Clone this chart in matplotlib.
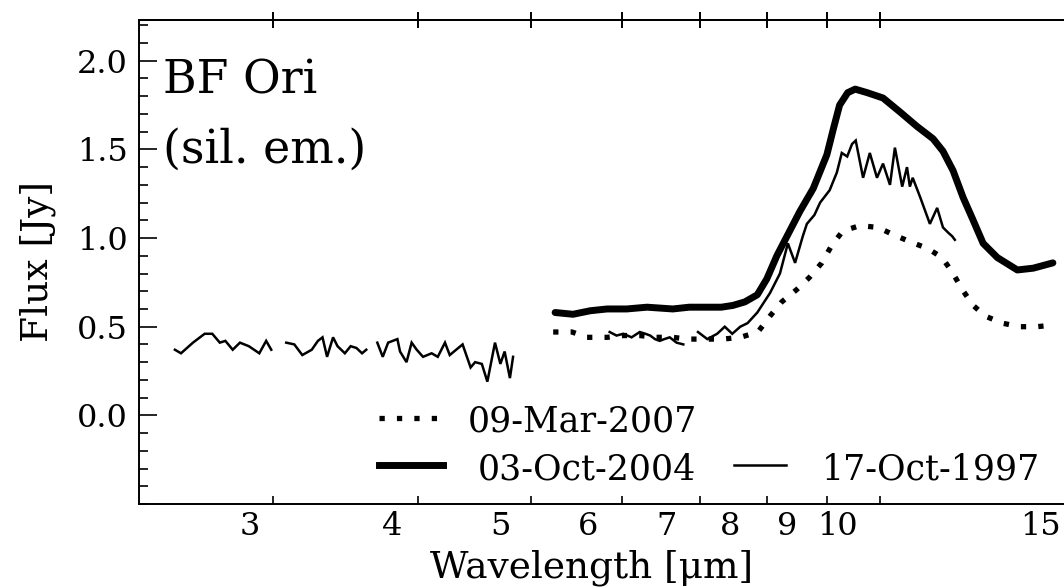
import numpy as np
import matplotlib
matplotlib.use("Agg")
import matplotlib.pyplot as plt
from matplotlib.ticker import FixedLocator, NullLocator, MultipleLocator, FormatStrFormatter
from matplotlib.transforms import ScaledTranslation
from matplotlib.lines import Line2D

plt.rcParams['font.family'] = ['DejaVu Serif']

nan = np.nan

# 17-Oct-1997 spectrum (NaN separates the separate wavelength windows)
wl_1997 = [2.47, 2.50, 2.56, 2.62, 2.66, 2.70, 2.73, 2.77, 2.81, 2.86, 2.92, 2.96, 2.99, nan,
           3.08, 3.13, 3.18, 3.24, 3.28, 3.31, 3.34, 3.38, 3.41, 3.46, 3.50, 3.54, 3.58, 3.61, nan,
           3.69, 3.73, 3.77, 3.84, 3.86, 3.91, 3.95, 3.99, 4.04, 4.11, 4.16, 4.22, 4.26, 4.37,
           4.44, 4.48, 4.54, 4.59, 4.66, 4.71, 4.75, 4.80, 4.83, nan,
           5.85, 5.93, 6.01, 6.11, 6.21, 6.28, 6.34, 6.40, 6.46, 6.52, 6.59, 6.68, 6.77, nan,
           6.97, 7.10, 7.24, 7.35, 7.46, 7.58, 7.69, 7.84, 8.04, 8.20, 8.33, 8.45, 8.58, 8.65,
           8.78, 8.88, 9.05, 9.18, 9.27, 9.37, 9.46, 9.53, 9.67, 9.80, 9.94, 10.06, 10.20, 10.30,
           10.45, 10.55, 10.61, 10.67, 10.83, 11.04, 11.20, 11.33, 11.45, 11.54, 11.60]
flux_1997 = [0.37, 0.35, 0.41, 0.46, 0.46, 0.41, 0.42, 0.37, 0.41, 0.39, 0.35, 0.42, 0.37, nan,
             0.41, 0.40, 0.34, 0.37, 0.42, 0.44, 0.33, 0.44, 0.39, 0.35, 0.39, 0.38, 0.35, 0.37, nan,
             0.41, 0.33, 0.41, 0.43, 0.36, 0.30, 0.41, 0.37, 0.33, 0.35, 0.33, 0.41, 0.34, 0.40,
             0.27, 0.30, 0.29, 0.19, 0.41, 0.29, 0.36, 0.21, 0.33, nan,
             0.47, 0.45, 0.46, 0.44, 0.47, 0.46, 0.45, 0.43, 0.42, 0.43, 0.44, 0.41, 0.40, nan,
             0.47, 0.43, 0.46, 0.50, 0.46, 0.50, 0.52, 0.58, 0.69, 0.80, 0.97, 0.86, 1.01, 1.08,
             1.13, 1.20, 1.27, 1.37, 1.48, 1.46, 1.53, 1.55, 1.34, 1.48, 1.34, 1.42, 1.30, 1.51,
             1.29, 1.40, 1.29, 1.34, 1.23, 1.08, 1.17, 1.06, 1.03, 1.01, 0.99]

# 03-Oct-2004 spectrum
wl_2004 = [5.25, 5.44, 5.63, 5.82, 6.05, 6.30, 6.63, 6.85, 7.10, 7.30, 7.47, 7.65, 7.84, 7.99,
           8.15, 8.30, 8.53, 8.76, 9.00, 9.12, 9.23, 9.38, 9.52, 9.75, 10.06, 10.41, 10.76,
           11.11, 11.33, 11.56, 11.79, 12.03, 12.27, 12.62, 13.13, 13.55, 14.09]
flux_2004 = [0.58, 0.57, 0.59, 0.60, 0.60, 0.61, 0.60, 0.61, 0.61, 0.61, 0.62, 0.64, 0.68, 0.77,
             0.90, 1.00, 1.15, 1.28, 1.47, 1.62, 1.75, 1.82, 1.84, 1.82, 1.79, 1.71, 1.63,
             1.56, 1.49, 1.38, 1.23, 1.10, 0.97, 0.89, 0.82, 0.83, 0.86]

# 09-Mar-2007 spectrum
wl_2007 = [5.23, 5.43, 5.59, 5.82, 6.01, 6.21, 6.42, 6.63, 6.83, 7.07, 7.32, 7.58, 7.85, 8.04,
           8.23, 8.48, 8.70, 8.91, 9.09, 9.29, 9.61, 9.96, 10.26, 10.61, 11.00, 11.31, 11.56,
           11.77, 12.03, 12.32, 12.74, 13.20, 13.65, 14.15]
flux_2007 = [0.47, 0.47, 0.44, 0.44, 0.45, 0.45, 0.44, 0.44, 0.43, 0.43, 0.43, 0.44, 0.47, 0.56,
             0.64, 0.71, 0.78, 0.86, 0.96, 1.04, 1.07, 1.06, 1.02, 0.98, 0.94, 0.89, 0.80,
             0.71, 0.62, 0.56, 0.52, 0.50, 0.50, 0.51]

series_dates = ['09-Mar-2007', '03-Oct-2004', '17-Oct-1997']

x_ticks = [3, 4, 5, 6, 7, 8, 9, 10, 15]
x_tick_labels = ['3', '4', '5', '6', '7', '8', '9', '10', '15']
y_ticks = [0.0, 0.5, 1.0, 1.5, 2.0]

# horizontal shift (pixels) applied to each x tick label
x_label_shift_px = [-23, -26, -30, -34, -34, -37, -40, -43, -44]

DPI = 100
fig = plt.figure(figsize=(10.64, 5.88), dpi=DPI)
ax = fig.add_axes([0.1306, 0.1429, 0.9192, 0.8231])
ax.set_xscale('log')
ax.set_xlim(2.3, 16)
ax.set_ylim(-0.5, 2.23)

dotted = (0, (1, 2.3))
ax.plot(wl_2007, flux_2007, color='black', lw=3.8, linestyle=dotted, dash_capstyle='butt')
ax.plot(wl_2004, flux_2004, color='black', lw=5.0, solid_capstyle='round', solid_joinstyle='round')
ax.plot(wl_1997, flux_1997, color='black', lw=1.8, solid_joinstyle='miter')

for s in ('left', 'bottom', 'top', 'right'):
    ax.spines[s].set_linewidth(1.4)

# x axis
ax.xaxis.set_major_locator(FixedLocator(x_ticks))
ax.xaxis.set_minor_locator(NullLocator())
ax.set_xticklabels(x_tick_labels)
ax.tick_params(axis='x', which='major', direction='in', length=6, width=1.2,
               labelsize=23, pad=5, top=False)
for lab, dx in zip(ax.get_xticklabels(), x_label_shift_px):
    lab.set_transform(lab.get_transform() + ScaledTranslation(dx / DPI, 0, fig.dpi_scale_trans))

top = ax.secondary_xaxis('top')
top.xaxis.set_major_locator(FixedLocator(x_ticks))
top.xaxis.set_minor_locator(NullLocator())
top.tick_params(axis='x', which='major', direction='inout', length=11, width=1.4, labeltop=False)
top.spines['top'].set_linewidth(1.4)

# y axis
ax.yaxis.set_major_locator(FixedLocator(y_ticks))
ax.yaxis.set_minor_locator(MultipleLocator(0.1))
ax.yaxis.set_major_formatter(FormatStrFormatter('%.1f'))
ax.tick_params(axis='y', which='major', direction='in', length=13, width=1.2,
               labelsize=23, pad=8, right=False)
ax.tick_params(axis='y', which='minor', direction='in', length=6.5, width=1.2, right=False)

ax.set_xlabel('Wavelength [μm]', fontsize=27)
ax.xaxis.set_label_coords(0.463, -0.095)
ax.set_ylabel('Flux [Jy]', fontsize=27)
ax.yaxis.set_label_coords(-0.085, 0.5)

ax.text(0.0245, 0.849, 'BF Ori', transform=ax.transAxes, fontsize=33, va='baseline')
ax.text(0.0245, 0.7045, '(sil. em.)', transform=ax.transAxes, fontsize=33, va='baseline')

# key
def key_entry(x0, x1, y_line, x_text, y_text, label, **style):
    ax.add_line(Line2D([x0, x1], [y_line, y_line], transform=ax.transAxes,
                       color='black', **style))
    ax.text(x_text, y_text, label, transform=ax.transAxes, fontsize=25,
            ha='right', va='baseline')

key_entry(0.2454, 0.3078, 0.1777, 0.5706, 0.1488, series_dates[0],
          lw=3.8, linestyle=dotted, dash_capstyle='butt')
key_entry(0.2454, 0.3108, 0.0806, 0.5695, 0.0496, series_dates[1], lw=5.0)
key_entry(0.6084, 0.6616, 0.0806, 0.9213, 0.0496, series_dates[2], lw=1.8)

fig.savefig('out.png', dpi=DPI)
